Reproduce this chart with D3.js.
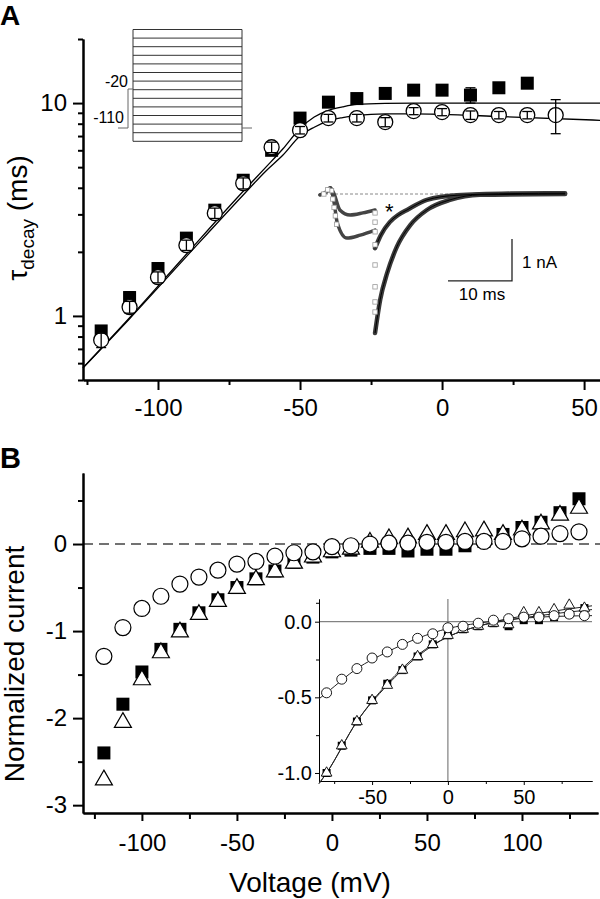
<!DOCTYPE html>
<html>
<head>
<meta charset="utf-8">
<script src="https://cdn.jsdelivr.net/npm/d3@7"></script>
<style>
  body { margin: 0; background: #fff; }
  svg { display: block; }
</style>
</head>
<body>
<div id="fig"></div>
<script>
// ---- Panel A: decay time constants (ms) vs voltage (mV)
const tauSqV   = [-120, -110, -100, -90, -80, -70, -60, -50, -40, -30, -20, -10, 0, 10, 20, 30];
const tauSq    = [0.85, 1.22, 1.67, 2.32, 3.14, 4.34, 6.0, 8.5, 10.1, 10.5, 11.1, 11.5, 11.5, 10.9, 11.8, 12.4];
const tauSqErr = [0.05, 0.08, 0.1, 0.12, 0.15, 0.2, 0.3, 0.4, 0.3, 0.3, 0.3, 0.3, 0.3, 0.9, 0.3, 0.3];
const tauCiV   = [-120, -110, -100, -90, -80, -70, -60, -50, -40, -30, -20, -10, 0, 10, 20, 30, 40];
const tauCi    = [0.77, 1.10, 1.52, 2.15, 3.04, 4.2, 6.2, 7.46, 8.5, 8.5, 8.14, 9.17, 9.07, 8.78, 8.78, 8.78, 8.78];
const tauCiErr = [0.06, 0.07, 0.09, 0.12, 0.17, 0.25, 0.35, 0.3, 0.35, 0.35, 0.4, 0.35, 0.35, 0.4, 0.35, 0.35, 1.6];

// fitted curves
const fitAV     = [-126.4, -110, -90, -70, -62, -56, -50, -45, -40, -35, -30, -20, -10, 0, 20, 55.6];
const fitAUpper = [0.57, 0.98, 1.95, 3.85, 5.0, 6.1, 7.6, 8.6, 9.25, 9.6, 9.85, 9.97, 10.0, 10.0, 10.0, 10.0];
const fitALower = [0.57, 0.97, 1.90, 3.7, 4.8, 5.7, 7.0, 7.7, 8.25, 8.55, 8.75, 8.9, 8.9, 8.85, 8.65, 8.3];

// current traces in the inset (time ms, current nA)
const trace1 = [[0, -0.02], [1.0, 0.05], [1.6, 0.15], [2.2, 0.0], [3.1, -0.38], [4.7, -0.5], [6.7, -0.45], [8.6, -0.38]];
const tail1  = [[8.6, -1.29], [9.5, -0.98], [10.9, -0.67], [12.2, -0.5], [13.6, -0.38], [16.7, -0.14], [21.4, -0.03], [30, 0.01], [38.3, 0.02]];
const trace2 = [[0, -0.02], [1.0, 0.05], [1.6, 0.15], [2.2, -0.2], [2.7, -0.69], [4.2, -1.05], [6.3, -0.98], [8.6, -0.86]];
const tail2  = [[8.6, -3.31], [9.4, -2.52], [10.5, -1.88], [12.0, -1.26], [14.1, -0.74], [16.7, -0.38], [20.3, -0.14], [25, -0.02], [38.3, 0]];
const graySq = [[8.6, -0.45], [8.6, -0.67], [8.6, -0.9], [8.6, -1.21], [8.6, -1.69], [8.6, -2.21], [8.6, -2.57], [8.6, -2.81],
                [1.8, 0.08], [2.0, -0.12], [2.2, -0.32], [2.4, -0.52], [2.6, -0.72], [0.6, 0.0], [1.2, 0.1]];

// ---- Panel B: normalized current vs voltage
const ivV   = [-120, -110, -100, -90, -80, -70, -60, -50, -40, -30, -20, -10, 0, 10, 20, 30, 40, 50, 60, 70, 80, 90, 100, 110, 120, 130];
const ivCi  = [-1.29, -0.96, -0.74, -0.60, -0.46, -0.38, -0.30, -0.23, -0.20, -0.14, -0.10, -0.09, -0.03, -0.02, 0.0, 0.01, 0.01, 0.02, 0.02, 0.03, 0.03, 0.03, 0.06, 0.09, 0.12, 0.14];
const ivSq  = [-2.40, -1.84, -1.47, -1.21, -0.98, -0.79, -0.64, -0.50, -0.40, -0.31, -0.21, -0.15, -0.09, -0.07, -0.05, -0.05, -0.08, -0.06, -0.06, -0.02, 0.03, 0.11, 0.19, 0.25, 0.36, 0.52];
const ivTri = [-2.71, -2.05, -1.56, -1.25, -1.01, -0.81, -0.66, -0.51, -0.41, -0.32, -0.22, -0.15, -0.09, -0.06, 0.02, 0.06, 0.07, 0.11, 0.11, 0.14, 0.15, 0.11, 0.16, 0.23, 0.33, 0.41];

// inset of panel B
const inV   = [-80, -70, -60, -50, -40, -30, -20, -10, 0, 10, 20, 30, 40, 50, 60, 70, 80, 90];
const inCi  = [-0.47, -0.38, -0.31, -0.24, -0.20, -0.15, -0.11, -0.08, -0.04, -0.03, -0.01, 0.01, 0.02, 0.03, 0.03, 0.04, 0.05, 0.04];
const inSq  = [-1.0, -0.82, -0.66, -0.52, -0.41, -0.32, -0.23, -0.15, -0.09, -0.05, -0.03, -0.01, -0.03, 0.01, 0.01, 0.03, 0.05, 0.09];
const inTri = [-1.0, -0.82, -0.66, -0.52, -0.42, -0.32, -0.23, -0.15, -0.09, -0.05, -0.03, -0.01, -0.02, 0.06, 0.06, 0.08, 0.11, 0.09];
const inFitV   = [-85, -80, -60, -40, -20, 0, 20, 40, 60, 95];
const inFitCi  = [-0.51, -0.47, -0.31, -0.20, -0.11, -0.045, -0.01, 0.015, 0.03, 0.04];
const inFitSq  = [-1.07, -1.0, -0.66, -0.41, -0.22, -0.10, -0.03, 0.01, 0.04, 0.08];
const inFitTri = [-1.07, -1.0, -0.66, -0.42, -0.23, -0.10, -0.03, 0.02, 0.055, 0.105];

const F = "Arial, 'Liberation Sans', sans-serif";
const width = 600, height = 899;

const svg = d3.select("#fig").append("svg")
    .attr("width", width)
    .attr("height", height)
    .style("font-family", F);

function styleAxis(g, sw, fs) {
    g.select(".domain").attr("stroke-width", sw);
    g.selectAll(".tick line").attr("stroke-width", sw);
    g.selectAll(".tick text").attr("font-size", fs).attr("font-family", F).attr("fill", "#000");
}

// ===================== PANEL A =====================
const xA = d3.scaleLinear().domain([-126.4, 55.6]).range([83, 600]);
const yA = d3.scaleLog().domain([0.5, 20]).range([380, 39]);

// minor ticks first
svg.append("g").attr("transform", "translate(0,380)")
    .call(d3.axisBottom(xA).tickValues([-125, -75, -25, 25]).tickSize(5).tickSizeOuter(0).tickFormat(""))
    .call(g => styleAxis(g, 2, 24));
svg.append("g").attr("transform", "translate(0,380)")
    .call(d3.axisBottom(xA).tickValues([-100, -50, 0, 50]).tickSize(10).tickSizeOuter(0).tickPadding(9).tickFormat(d => String(d)))
    .call(g => styleAxis(g, 2, 24));
svg.append("g").attr("transform", "translate(83,0)")
    .call(d3.axisLeft(yA).tickValues([0.5, 0.6, 0.7, 0.8, 0.9, 2, 3, 4, 5, 6, 7, 8, 9, 20]).tickSize(5).tickSizeOuter(0).tickFormat(""))
    .call(g => styleAxis(g, 2, 24));
svg.append("g").attr("transform", "translate(83,0)")
    .call(d3.axisLeft(yA).tickValues([1, 10]).tickSize(10).tickSizeOuter(0).tickPadding(6).tickFormat(d => String(d)))
    .call(g => styleAxis(g, 2, 24));

// fit curves
const lineA = d3.line().x(d => xA(d[0])).y(d => yA(d[1])).curve(d3.curveMonotoneX);
svg.append("path").datum(fitAV.map((v, i) => [v, fitAUpper[i]]))
    .attr("d", lineA).attr("fill", "none").attr("stroke", "#000").attr("stroke-width", 1.3);
svg.append("path").datum(fitAV.map((v, i) => [v, fitALower[i]]))
    .attr("d", lineA).attr("fill", "none").attr("stroke", "#000").attr("stroke-width", 1.3);

// squares
const sqA = tauSqV.map((v, i) => ({ v, t: tauSq[i], e: tauSqErr[i] }));
const ciA = tauCiV.map((v, i) => ({ v, t: tauCi[i], e: tauCiErr[i] }));

svg.append("g").selectAll("rect").data(sqA).enter().append("rect")
    .attr("x", d => xA(d.v) - 6.5).attr("y", d => yA(d.t) - 6.5)
    .attr("width", 13).attr("height", 13).attr("fill", "#000");

function errBars(g, data, x, y) {
    const sel = g.selectAll("g").data(data).enter().append("g")
        .attr("stroke", "#000").attr("stroke-width", 1.3);
    sel.append("line").attr("x1", d => x(d.v)).attr("x2", d => x(d.v))
        .attr("y1", d => y(d.t + d.e)).attr("y2", d => y(d.t - d.e));
    sel.append("line").attr("x1", d => x(d.v) - 5).attr("x2", d => x(d.v) + 5)
        .attr("y1", d => y(d.t + d.e)).attr("y2", d => y(d.t + d.e));
    sel.append("line").attr("x1", d => x(d.v) - 5).attr("x2", d => x(d.v) + 5)
        .attr("y1", d => y(d.t - d.e)).attr("y2", d => y(d.t - d.e));
}
errBars(svg.append("g"), sqA, xA, yA);

svg.append("g").selectAll("circle").data(ciA).enter().append("circle")
    .attr("cx", d => xA(d.v)).attr("cy", d => yA(d.t)).attr("r", 7.5)
    .attr("fill", "#fff").attr("stroke", "#000").attr("stroke-width", 1.3);
errBars(svg.append("g"), ciA, xA, yA);

// voltage protocol inset
const prot = svg.append("g").attr("stroke", "#333").attr("stroke-width", 1).attr("fill", "none");
d3.range(14).forEach(i => {
    prot.append("line").attr("x1", 133).attr("x2", 242).attr("y1", 29.5 + i * 8.6).attr("y2", 29.5 + i * 8.6);
});
prot.append("line").attr("x1", 133).attr("x2", 133).attr("y1", 29.5).attr("y2", 141.3);
prot.append("line").attr("x1", 242).attr("x2", 242).attr("y1", 29.5).attr("y2", 141.3);
prot.append("path").attr("d", "M118,128 H128 V89 H133").attr("stroke", "#666");
prot.append("line").attr("x1", 242).attr("x2", 252).attr("y1", 128).attr("y2", 128).attr("stroke", "#666");
svg.append("text").attr("x", 128).attr("y", 87).attr("text-anchor", "end")
    .attr("font-size", 16).text("-20");
svg.append("text").attr("x", 124).attr("y", 123).attr("text-anchor", "end")
    .attr("font-size", 16).text("-110");

// current traces inset
const tT = d3.scaleLinear().domain([0, 10]).range([320, 384]);
const iT = d3.scaleLinear().domain([0, -1]).range([194, 236]);
const lineT = d3.line().x(d => tT(d[0])).y(d => iT(d[1])).curve(d3.curveMonotoneX);

svg.append("line").attr("x1", tT(0)).attr("x2", tT(38.3)).attr("y1", iT(0)).attr("y2", iT(0))
    .attr("stroke", "#888").attr("stroke-width", 1).attr("stroke-dasharray", "3,2");
[trace1, trace2].forEach(tr => {
    svg.append("path").datum(tr).attr("d", lineT).attr("fill", "none")
        .attr("stroke", "#444").attr("stroke-width", 3.5).attr("stroke-linecap", "round");
});
[tail1, tail2].forEach(tr => {
    svg.append("path").datum(tr).attr("d", lineT).attr("fill", "none")
        .attr("stroke", "#3a3a3a").attr("stroke-width", 4.5).attr("stroke-linecap", "round");
});
[tail1, tail2].forEach(tr => {
    svg.append("path").datum(tr).attr("d", lineT).attr("fill", "none")
        .attr("stroke", "#000").attr("stroke-width", 1);
});
svg.append("g").selectAll("rect").data(graySq).enter().append("rect")
    .attr("x", d => tT(d[0]) - 2.2).attr("y", d => iT(d[1]) - 2.2)
    .attr("width", 4.4).attr("height", 4.4)
    .attr("fill", "#fff").attr("stroke", "#999").attr("stroke-width", 0.8);
svg.append("text").attr("x", 385).attr("y", 219).attr("font-size", 22).text("*");

// scale bars: 10 ms, 1 nA
svg.append("path")
    .attr("d", `M${tT(20)},${iT(-2.07)} H${tT(30)} V${iT(-1.07)}`)
    .attr("fill", "none").attr("stroke", "#222").attr("stroke-width", 1.3);
svg.append("text").attr("x", 522).attr("y", 268).attr("font-size", 17).text("1 nA");
svg.append("text").attr("x", 482).attr("y", 300).attr("font-size", 17).attr("text-anchor", "middle").text("10 ms");

// labels
svg.append("text").attr("x", 0).attr("y", 25).attr("font-size", 28).attr("font-weight", "bold").text("A");
const yt = svg.append("text").attr("transform", "translate(27,218) rotate(-90)")
    .attr("text-anchor", "middle").attr("font-size", 28);
yt.append("tspan").text("τ");
yt.append("tspan").attr("font-size", 19).attr("dy", 7).text("decay");
yt.append("tspan").attr("dy", -7).text(" (ms)");

// ===================== PANEL B =====================
const xB = d3.scaleLinear().domain([-131, 140]).range([83, 598]);
const yB = d3.scaleLinear().domain([-3.09, 0.816]).range([813, 473]);

svg.append("line").attr("x1", 83).attr("x2", 600).attr("y1", yB(0)).attr("y2", yB(0))
    .attr("stroke", "#444").attr("stroke-width", 1.5).attr("stroke-dasharray", "10,6");

svg.append("g").attr("transform", "translate(0,813)")
    .call(d3.axisBottom(xB).tickValues([-125, -75, -25, 25, 75, 125]).tickSize(6).tickSizeOuter(0).tickFormat(""))
    .call(g => styleAxis(g, 2, 24));
svg.append("g").attr("transform", "translate(0,813)")
    .call(d3.axisBottom(xB).tickValues([-100, -50, 0, 50, 100]).tickSize(8).tickSizeOuter(0).tickPadding(13).tickFormat(d => String(d)))
    .call(g => styleAxis(g, 2, 24));
svg.append("g").attr("transform", "translate(83,0)")
    .call(d3.axisLeft(yB).tickValues([-2.5, -1.5, -0.5, 0.5]).tickSize(5).tickSizeOuter(0).tickFormat(""))
    .call(g => styleAxis(g, 2, 24));
svg.append("g").attr("transform", "translate(83,0)")
    .call(d3.axisLeft(yB).tickValues([-3, -2, -1, 0]).tickSize(10).tickSizeOuter(0).tickPadding(6).tickFormat(d => String(d)))
    .call(g => styleAxis(g, 2, 24));

const tri = (s) => d3.symbol().type(d3.symbolTriangle).size(s)();

svg.append("g").selectAll("rect").data(ivV).enter().append("rect")
    .attr("x", (v) => xB(v) - 6.5).attr("y", (v, i) => yB(ivSq[i]) - 6.5)
    .attr("width", 13).attr("height", 13).attr("fill", "#000");
svg.append("g").selectAll("path").data(ivV).enter().append("path")
    .attr("d", tri(125))
    .attr("transform", (v, i) => `translate(${xB(v)},${yB(ivTri[i])})`)
    .attr("fill", "#fff").attr("stroke", "#000").attr("stroke-width", 1.2);
svg.append("g").selectAll("circle").data(ivV).enter().append("circle")
    .attr("cx", v => xB(v)).attr("cy", (v, i) => yB(ivCi[i])).attr("r", 8)
    .attr("fill", "#fff").attr("stroke", "#000").attr("stroke-width", 1.2);

svg.append("text").attr("x", 0).attr("y", 468).attr("font-size", 29).attr("font-weight", "bold").text("B");
svg.append("text").attr("transform", "translate(24,664) rotate(-90)")
    .attr("text-anchor", "middle").attr("font-size", 28).text("Normalized current");
svg.append("text").attr("x", 310).attr("y", 892).attr("text-anchor", "middle")
    .attr("font-size", 28).text("Voltage (mV)");

// ---- inset of panel B
const xI = d3.scaleLinear().domain([-85, 95]).range([319, 592]);
const yI = d3.scaleLinear().domain([-1.053, 0.15]).range([781, 599]);

svg.append("line").attr("x1", 319).attr("x2", 592).attr("y1", yI(0)).attr("y2", yI(0))
    .attr("stroke", "#666").attr("stroke-width", 1);
svg.append("line").attr("x1", xI(0)).attr("x2", xI(0)).attr("y1", 599).attr("y2", 781)
    .attr("stroke", "#666").attr("stroke-width", 1);

svg.append("g").attr("transform", "translate(0,781)")
    .call(d3.axisBottom(xI).tickValues([-75, -25, 25, 75]).tickSize(3).tickSizeOuter(0).tickFormat(""))
    .call(g => styleAxis(g, 1, 20));
svg.append("g").attr("transform", "translate(0,781)")
    .call(d3.axisBottom(xI).tickValues([-50, 0, 50]).tickSize(4).tickSizeOuter(0).tickPadding(5).tickFormat(d => String(d)))
    .call(g => styleAxis(g, 1, 20));
svg.append("g").attr("transform", "translate(319,0)")
    .call(d3.axisLeft(yI).tickValues([-0.75, -0.25, 0.125]).tickSize(3).tickSizeOuter(0).tickFormat(""))
    .call(g => styleAxis(g, 1, 20));
svg.append("g").attr("transform", "translate(319,0)")
    .call(d3.axisLeft(yI).tickValues([-1, -0.5, 0]).tickSize(4).tickSizeOuter(0).tickPadding(3).tickFormat(d => d.toFixed(1)))
    .call(g => styleAxis(g, 1, 20));

const lineI = d3.line().x(d => xI(d[0])).y(d => yI(d[1])).curve(d3.curveMonotoneX);
[inFitCi, inFitSq, inFitTri].forEach(arr => {
    svg.append("path").datum(inFitV.map((v, i) => [v, arr[i]]))
        .attr("d", lineI).attr("fill", "none").attr("stroke", "#222").attr("stroke-width", 1);
});

svg.append("g").selectAll("rect").data(inV).enter().append("rect")
    .attr("x", v => xI(v) - 4).attr("y", (v, i) => yI(inSq[i]) - 4)
    .attr("width", 8).attr("height", 8).attr("fill", "#000");
svg.append("g").selectAll("path").data(inV).enter().append("path")
    .attr("d", tri(50))
    .attr("transform", (v, i) => `translate(${xI(v)},${yI(inTri[i])})`)
    .attr("fill", "#fff").attr("stroke", "#000").attr("stroke-width", 0.9);
svg.append("g").selectAll("circle").data(inV).enter().append("circle")
    .attr("cx", v => xI(v)).attr("cy", (v, i) => yI(inCi[i])).attr("r", 5)
    .attr("fill", "#fff").attr("stroke", "#000").attr("stroke-width", 0.9);
</script>
</body>
</html>
